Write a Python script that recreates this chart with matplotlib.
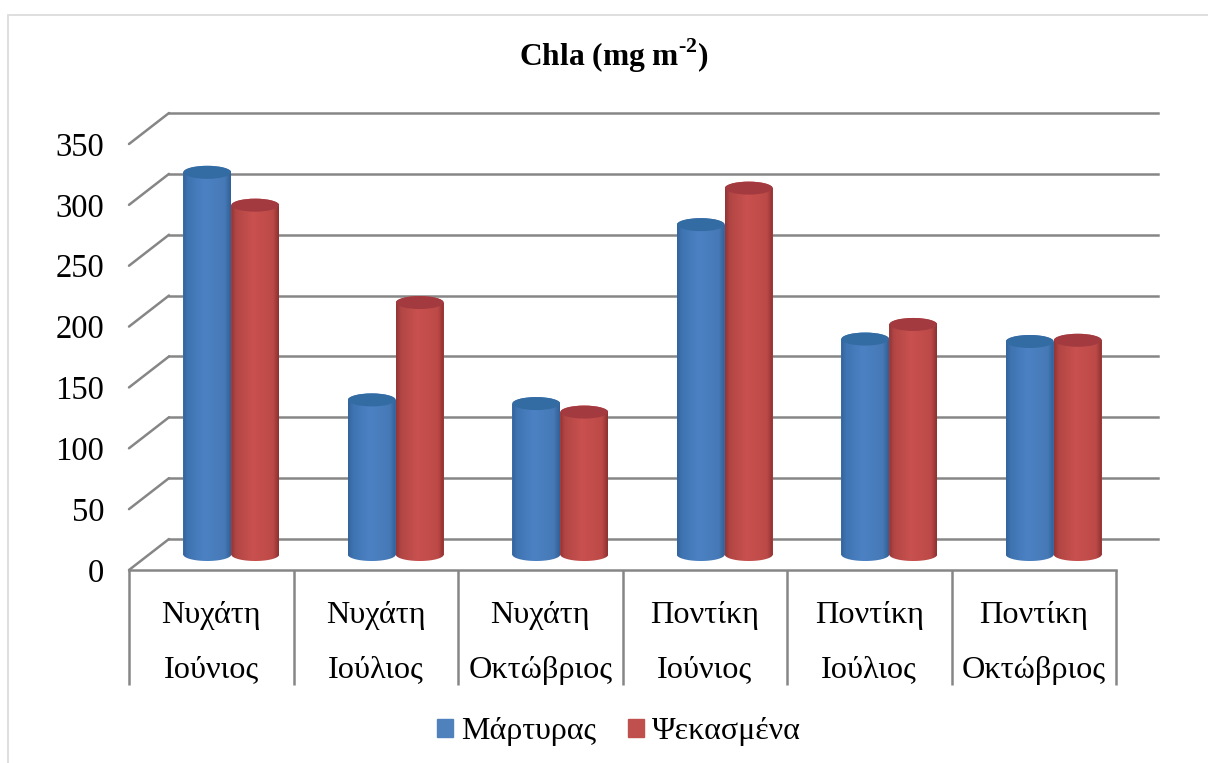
import numpy as np
import matplotlib
matplotlib.use("Agg")
import matplotlib.pyplot as plt
from matplotlib.colors import LinearSegmentedColormap
from matplotlib.patches import Ellipse, Patch, Rectangle
from matplotlib.path import Path

plt.rcParams['font.family'] = ['Liberation Serif', 'DejaVu Serif']
plt.rcParams['mathtext.fontset'] = 'custom'
plt.rcParams['mathtext.rm'] = 'Liberation Serif:bold'
plt.rcParams['mathtext.bf'] = 'Liberation Serif:bold'

# --- data ---
categories = ["Νυχάτη\nΙούνιος", "Νυχάτη\nΙούλιος", "Νυχάτη\nΟκτώβριος",
              "Ποντίκη\nΙούνιος", "Ποντίκη\nΙούλιος", "Ποντίκη\nΟκτώβριος"]
control = [314, 127, 124, 271, 177, 175]
sprayed = [287, 207, 117, 301, 189, 176]
series_names = ["Μάρτυρας", "Ψεκασμένα"]
yticks = [0, 50, 100, 150, 200, 250, 300, 350]
title = r"Chla (mg m$^{\text{-2}}$)"

# --- style ---
W, H = 1208, 763
L, R, T, B = 129, 1116, 144, 570
GREY = "#868686"
LW = 1.8
fig = plt.figure(figsize=(W / 100, H / 100), dpi=100, facecolor="white")
ax = fig.add_axes([L / W, (H - B) / H, (R - L) / W, (B - T) / H])
ax.set_xlim(-0.5, 5.5)
ax.set_ylim(0, 350)
ax.set_facecolor("none")
for s in ax.spines.values():
    s.set_visible(False)

px_x = 6 / (R - L)      # data units per pixel
px_y = 350 / (B - T)
DX, DY = 40 * px_x, 31 * px_y
BAR_W = 48 * px_x
ELL = 13 * px_y

# outer chart frame
fig.add_artist(Rectangle((8 / W, -0.02), 1.1, (H - 15) / H + 0.02, transform=fig.transFigure,
                         fill=False, ec="#dcdcdc", lw=1.3))

# walls
xs = np.arange(len(categories))
for v in yticks:
    ax.plot([-0.5, -0.5 + DX], [v, v + DY], color=GREY, lw=LW, clip_on=False, zorder=1,
            solid_capstyle="round")
    ax.plot([-0.5 + DX, 5.5 + DX + 2 * px_x], [v + DY, v + DY], color=GREY, lw=LW,
            clip_on=False, zorder=1)
ax.plot([-0.5, 5.5], [0, 0], color=GREY, lw=LW, clip_on=False, zorder=1)
ax.vlines(np.arange(-0.5, 6), -115 * px_y, 0, color=GREY, lw=LW, clip_on=False, zorder=1)

blue_cm = LinearSegmentedColormap.from_list("b", [(0, "#34649c"), (.10, "#3f74b2"), (.45, "#4c82c4"),
                                                  (.88, "#4679b6"), (1, "#336096")])
red_cm = LinearSegmentedColormap.from_list("r", [(0, "#933636"), (.10, "#b24644"), (.45, "#c9514f"),
                                                 (.88, "#bd4a47"), (1, "#8f3232")])
grad = np.linspace(0, 1, 64)[None, :]


def cylinder(x, v, base, cmap, top_col, z):
    ax.bar(x, v, BAR_W, bottom=base, color=cmap(0.45), linewidth=0, zorder=z, clip_on=False)
    t = np.linspace(0, np.pi, 40)
    lower = np.column_stack([x - BAR_W / 2 * np.cos(t), base - ELL / 2 * np.sin(t)])
    upper = np.column_stack([x + BAR_W / 2 * np.cos(t), base + v + ELL / 2 * np.sin(t)])
    pts = np.vstack([lower, upper, lower[:1]])
    body = Path(pts, closed=True)
    im = ax.imshow(grad, cmap=cmap, aspect="auto", zorder=z + .1, interpolation="bilinear",
                   extent=[x - BAR_W / 2, x + BAR_W / 2, base - ELL / 2, base + v + ELL / 2])
    im.set_clip_path(body, transform=ax.transData)
    ax.add_patch(Ellipse((x, base + v), BAR_W * .98, ELL, fc=top_col, ec="none", zorder=z + .2))


for i, (a, b) in enumerate(zip(control, sprayed)):
    cx = xs[i] + DX / 2
    cylinder(cx - BAR_W / 2, a, DY / 2, blue_cm, "#336ba3", 3)
    cylinder(cx + BAR_W / 2, b, DY / 2, red_cm, "#a33a40", 4)

ax.set_xlim(-0.5, 5.5)
ax.set_ylim(0, 350)

# axis text
ax.set_yticks(yticks)
ax.set_yticklabels([str(v) for v in yticks], fontsize=23.5, color="black")
ax.set_xticks(xs)
ax.set_xticklabels(categories, fontsize=23.2, color="black", linespacing=2.18)
ax.tick_params(axis="y", length=0, pad=18)
ax.tick_params(axis="x", length=0, pad=22)

ax.set_title(title, fontsize=22.7, fontweight="bold", x=(614 - L) / (R - L), pad=0,
             y=(B - 42 - 24) / (B - T), va="baseline", color="black")

handles = [Patch(color="#4f81bd"), Patch(color="#c0504d")]
fig.legend(handles, series_names, loc="center", bbox_to_anchor=(619 / W, (H - 732) / H),
           ncol=2, frameon=False, fontsize=23, handlelength=0.5, handleheight=0.5,
           handletextpad=0.25, columnspacing=1.0)

fig.savefig("out.png", dpi=100)
